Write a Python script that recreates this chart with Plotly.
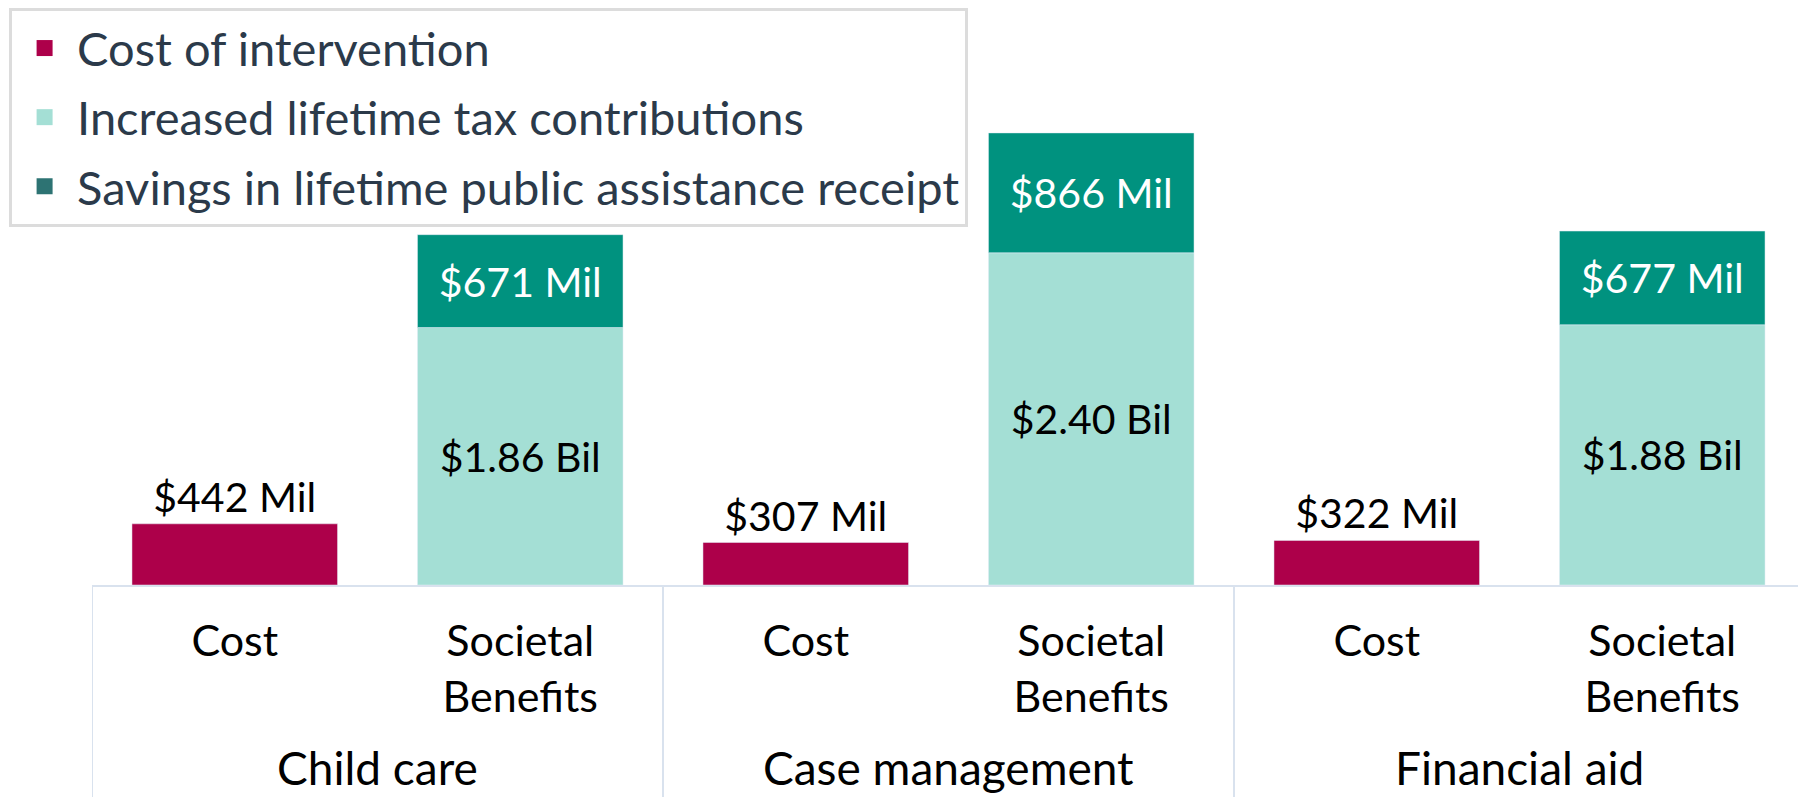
import plotly.graph_objects as go

groups = ["Child care", "Case management", "Financial aid"]
subcats = ["Cost", "Societal<br>Benefits"]

cost_values = [442, 307, 322]
tax_values = [1860, 2400, 1880]
savings_values = [671, 866, 677]

cost_labels = ["$442 Mil", "$307 Mil", "$322 Mil"]
tax_labels = ["$1.86 Bil", "$2.40 Bil", "$1.88 Bil"]
savings_labels = ["$671 Mil", "$866 Mil", "$677 Mil"]

legend_names = ["Cost of intervention", "Increased lifetime tax contributions",
                "Savings in lifetime public assistance receipt"]

C_COST = "#ad004a"
C_TAX = "#a4dfd5"
C_SAV = "#00927f"
LEG_COLORS = ["#ad004a", "#a4dfd5", "#2d7373"]
LINE_C = "#d9e2ee"
FONT = "Lato"
BAR_FS = 41
TICK_FS = 43
GROUP_FS = 46
LEG_FS = 47

categories = [f"{g}|{s}" for g in groups for s in subcats]
tick_text = [s for g in groups for s in subcats]
x_cost = [f"{g}|{subcats[0]}" for g in groups]
x_ben = [f"{g}|{subcats[1]}" for g in groups]

fig = go.Figure()
fig.add_trace(go.Bar(x=x_cost, y=cost_values, name=legend_names[0], marker_color=C_COST,
                     text=cost_labels, textposition="outside", cliponaxis=False,
                     textfont=dict(color="#000000", size=BAR_FS, family=FONT),
                     showlegend=False))
fig.add_trace(go.Bar(x=x_ben, y=tax_values, name=legend_names[1], marker_color=C_TAX,
                     text=tax_labels, textposition="inside", insidetextanchor="middle",
                     textfont=dict(color="#000000", size=BAR_FS, family=FONT),
                     showlegend=False))
fig.add_trace(go.Bar(x=x_ben, y=savings_values, name=legend_names[2], marker_color=C_SAV,
                     text=savings_labels, textposition="inside", insidetextanchor="middle",
                     textfont=dict(color="#ffffff", size=BAR_FS, family=FONT),
                     showlegend=False))
# legend entries (square swatches)
for i, (nm, col) in enumerate(zip(legend_names, LEG_COLORS)):
    fig.add_trace(go.Scatter(x=[None], y=[None], mode="markers", name=nm,
                             marker=dict(symbol="square", size=16, color=col),
                             legendgroup=f"g{i}", showlegend=True))

# group dividers and group labels on the category axis
n_sub = len(subcats)
for i in range(len(groups) + 1):
    xv = i * n_sub - 0.5
    fig.add_shape(type="line", xref="x", yref="paper", x0=xv, x1=xv, y0=0, y1=-0.4,
                  line=dict(color=LINE_C, width=2))
for i, g in enumerate(groups):
    fig.add_annotation(x=i * n_sub + (n_sub - 1) / 2, y=-0.318, xref="x", yref="paper",
                       text=g, showarrow=False, yanchor="middle", xanchor="center",
                       font=dict(size=GROUP_FS, color="#000000", family=FONT))

fig.update_layout(
    width=1798, height=789,
    margin=dict(l=84, r=1, t=0, b=212),
    barmode="relative", bargap=0.28,
    plot_bgcolor="white", paper_bgcolor="white",
    font=dict(family=FONT, size=TICK_FS, color="#000000"),
    legend=dict(x=-0.0484, y=1.0035, xanchor="left", yanchor="top",
                bgcolor="white", bordercolor="#dcdcdc", borderwidth=3,
                font=dict(size=LEG_FS, color="#2b3a4a", family=FONT),
                tracegroupgap=5, traceorder="grouped", itemwidth=55),
    xaxis=dict(type="category", categoryorder="array", categoryarray=categories,
               tickvals=categories, ticktext=tick_text, range=[-0.5, len(categories) - 0.5],
               showline=True, linecolor=LINE_C, linewidth=2,
               ticks="outside", ticklen=17, tickcolor="rgba(0,0,0,0)",
               tickfont=dict(size=TICK_FS, color="#000000", family=FONT)),
    yaxis=dict(range=[0, 4154], visible=False, showgrid=False),
)
fig.write_html("out.html")
